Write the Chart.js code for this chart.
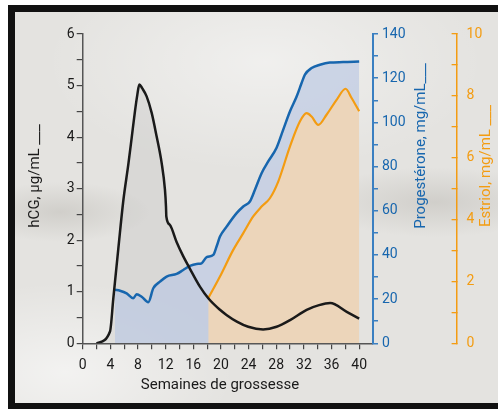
<!DOCTYPE html>
<html>
<head>
<meta charset="utf-8">
<script src="https://cdn.jsdelivr.net/npm/chart.js@4.4.1/dist/chart.umd.min.js"></script>
<style>
  html, body { margin: 0; padding: 0; background: #fff; overflow: hidden; }
  #frame {
    position: absolute; left: 8px; top: 5px; width: 510px; height: 391px;
    border: 7px solid #111;
    background:
      radial-gradient(ellipse 90px 30px at 45px 200px, rgba(130,125,115,0.20), transparent),
      radial-gradient(ellipse 120px 35px at 420px 190px, rgba(130,125,115,0.20), transparent),
      radial-gradient(ellipse 220px 110px at 250px 50px, rgba(255,255,255,0.45), transparent),
      radial-gradient(ellipse 170px 90px at 50px 360px, rgba(255,255,255,0.55), transparent),
      #e4e3e0;
  }
  #wrap { position: absolute; left: 0; top: 0; width: 498px; height: 409px; }
</style>
</head>
<body>
<div id="frame"></div>
<div id="wrap"><canvas id="chart" width="498" height="409"></canvas></div>
<script>
// semaines / valeurs
const hcgWeeks = [2, 3.95, 4.43, 5.15, 5.87, 6.6, 7.08, 7.56, 7.9, 8.19, 8.6, 9.25, 9.98, 10.7, 11.42, 11.9, 12.05, 12.1, 12.6, 13.6, 14.5, 15.5, 16.96, 18.2, 19.86, 20.8, 22.3, 23.95, 26.1, 28.05, 30, 32.4, 34.2, 35.8, 38.2, 40];
const hcgValues = [0, 0.23, 0.87, 1.83, 2.76, 3.47, 3.98, 4.5, 4.82, 5.02, 4.95, 4.79, 4.47, 4.01, 3.5, 2.98, 2.65, 2.46, 2.3, 1.96, 1.7, 1.45, 1.1, 0.87, 0.65, 0.55, 0.42, 0.32, 0.27, 0.32, 0.45, 0.65, 0.74, 0.78, 0.61, 0.48];

const progWeeks = [4.67, 5.4, 6.36, 7.32, 7.8, 8.53, 9.49, 10.21, 11.18, 12.14, 13.59, 14.55, 15.5, 16.48, 17.2, 17.93, 18.89, 19.37, 19.86, 20.82, 22.27, 23.23, 24.19, 24.92, 25.88, 26.84, 28.05, 29.0, 29.98, 30.95, 31.67, 32.15, 33.12, 34.32, 35.76, 37.69, 40];
const progValues = [24.2, 23.8, 22.6, 20.4, 22.2, 21.1, 18.6, 24.9, 27.9, 30.2, 31.4, 33.2, 35, 35.9, 36.2, 39, 40, 43.8, 48.3, 52.8, 58.9, 61.9, 64.2, 69.5, 77, 82.3, 88.5, 96.6, 104.9, 111.7, 117.8, 121.6, 124.6, 126.1, 127.1, 127.3, 127.6];

const estriolWeeks = [18.16, 19.86, 21.78, 23.23, 24.67, 25.88, 27.08, 28.29, 29.98, 31.42, 32.39, 33.12, 34.08, 35.28, 36.73, 38.03, 38.9, 40];
const estriolValues = [1.46, 2.16, 3.02, 3.56, 4.1, 4.42, 4.69, 5.23, 6.36, 7.17, 7.44, 7.33, 7.06, 7.39, 7.87, 8.23, 7.93, 7.5];

const xTitle = 'Semaines de grossesse';
const hcgTitle = 'hCG, µg/mL ___';
const progTitle = 'Progestérone, mg/mL___';
const estriolTitle = 'Estriol, mg/mL ___';

const FONT = '"Liberation Sans Narrow", Roboto, sans-serif';
const BLACK = '#1a1a1a';
const BLUE = '#1766ae';
const ORANGE = '#f39c12';

const toPoints = (xs, ys) => xs.map((x, i) => ({ x, y: ys[i] }));

// titres d'axes, tous lus de bas en haut
const axisTitles = {
  id: 'axisTitles',
  afterDraw(chart) {
    const { ctx } = chart;
    const vertical = (text, x, y, color) => {
      ctx.save();
      ctx.translate(x, y);
      ctx.rotate(-Math.PI / 2);
      ctx.fillStyle = color;
      ctx.fillText(text, 0, 0);
      ctx.restore();
    };
    ctx.save();
    ctx.font = `15px ${FONT}`;
    ctx.textAlign = 'center';
    ctx.textBaseline = 'middle';
    ctx.fillStyle = BLACK;
    ctx.fillText(xTitle, 220, 385);
    vertical(hcgTitle, 35, 176, BLACK);
    vertical(progTitle, 421, 146, BLUE);
    vertical(estriolTitle, 486, 166, ORANGE);
    ctx.restore();
  }
};

const tickFont = { family: FONT, size: 14 };

new Chart(document.getElementById('chart'), {
  type: 'line',
  data: {
    datasets: [
      { // ligne hCG (au-dessus)
        data: toPoints(hcgWeeks, hcgValues), yAxisID: 'y',
        borderColor: BLACK, borderWidth: 2.5, fill: false,
      },
      {
        data: toPoints(estriolWeeks, estriolValues), yAxisID: 'yE',
        borderColor: ORANGE, borderWidth: 2.2,
        fill: 'origin', backgroundColor: '#ecd5ba',
      },
      {
        data: toPoints(progWeeks, progValues), yAxisID: 'yP',
        borderColor: BLUE, borderWidth: 2.5,
        fill: 'origin', backgroundColor: 'rgba(190,203,227,0.72)',
      },
      { // remplissage gris sous hCG
        data: toPoints(hcgWeeks, hcgValues), yAxisID: 'y',
        borderWidth: 0, borderColor: 'rgba(0,0,0,0)',
        fill: 'origin', backgroundColor: 'rgba(185,185,185,0.25)',
      },
    ],
  },
  options: {
    responsive: false,
    animation: false,
    elements: { point: { radius: 0 }, line: { cubicInterpolationMode: 'monotone' } },
    layout: { padding: { top: 34, left: 0, right: 0, bottom: 0 } },
    plugins: { legend: { display: false }, tooltip: { enabled: false } },
    scales: {
      x: {
        type: 'linear', min: 0, max: 42,
        afterBuildTicks: (s) => { s.ticks = s.ticks.filter(t => t.value <= 40); },
        afterFit: (s) => { s.height = 65.7; },
        ticks: {
          stepSize: 2, color: BLACK, font: tickFont, padding: 8, maxRotation: 0, autoSkip: false,
          callback: (v) => (v % 4 === 0 ? v : ''),
        },
        grid: { drawOnChartArea: false, color: '#444', tickLength: 6, lineWidth: 1.2 },
        border: { color: '#555', width: 1.5 },
      },
      y: {
        position: 'left', min: 0, max: 6,
        afterFit: (s) => { s.width = 82.7; },
        ticks: {
          stepSize: 0.5, color: BLACK, font: tickFont, padding: 2, autoSkip: false,
          callback: (v) => (Number.isInteger(v) ? v : ''),
        },
        grid: { drawOnChartArea: false, color: '#444', tickLength: 6, lineWidth: 1.2 },
        border: { color: '#555', width: 1.5 },
      },
      yP: {
        position: 'right', min: 0, max: 140,
        afterFit: (s) => { s.width = 83.6; },
        ticks: {
          stepSize: 10, color: BLUE, font: tickFont, padding: 4, autoSkip: false,
          callback: (v) => (v % 20 === 0 ? v : ''),
        },
        grid: { drawOnChartArea: false, color: '#3a7fc1', tickLength: 5, lineWidth: 1.5 },
        border: { color: '#3a7fc1', width: 2 },
      },
      yE: {
        position: 'right', min: 0, max: 10,
        afterFit: (s) => { s.width = 41.4; },
        ticks: {
          stepSize: 1, color: ORANGE, font: tickFont, padding: 15, autoSkip: false,
          callback: (v) => (v % 2 === 0 ? v : ''),
        },
        grid: { drawOnChartArea: false, color: ORANGE, tickLength: -5, lineWidth: 1.3 },
        border: { color: ORANGE, width: 1.5 },
      },
    },
  },
  plugins: [axisTitles],
});
</script>
</body>
</html>
